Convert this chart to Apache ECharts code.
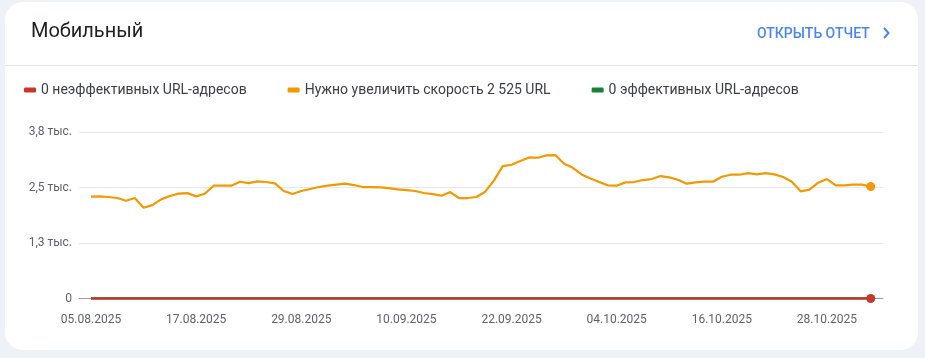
<!DOCTYPE html>
<html>
<head>
<meta charset="utf-8">
<script src="https://cdn.jsdelivr.net/npm/echarts@6/dist/echarts.min.js"></script>
<style>
  html, body { margin: 0; padding: 0; background: #eef2f8; }
  #chart { width: 925px; height: 358px; }
</style>
</head>
<body>
<div id="chart"></div>
<script>
// ---- Data ----
const xTickDays = [0, 12, 24, 36, 48, 60, 72, 84];
const xTickLabels = ['05.08.2025', '17.08.2025', '29.08.2025', '10.09.2025', '22.09.2025', '04.10.2025', '16.10.2025', '28.10.2025'];
const yTickLabels = ['0', '1,3 тыс.', '2,5 тыс.', '3,8 тыс.'];
const seriesNames = ['0 неэффективных URL-адресов', 'Нужно увеличить скорость 2 525 URL', '0 эффективных URL-адресов'];

const needsImprovement = [
  2297, 2305, 2290, 2267, 2207, 2267, 2049, 2108, 2236, 2312,
  2365, 2377, 2304, 2365, 2545, 2545, 2545, 2635, 2605, 2643,
  2628, 2598, 2425, 2356, 2425, 2470, 2515, 2545, 2568, 2590,
  2560, 2515, 2515, 2507, 2492, 2462, 2447, 2425, 2380, 2356,
  2320, 2402, 2267, 2267, 2290, 2410, 2665, 2988, 3018, 3100,
  3183, 3176, 3228, 3236, 3040, 2950, 2800, 2710, 2627, 2553,
  2545, 2620, 2628, 2673, 2695, 2763, 2733, 2680, 2590, 2620,
  2635, 2635, 2748, 2793, 2793, 2830, 2800, 2830, 2800, 2740,
  2635, 2417, 2455, 2613, 2695, 2553, 2553, 2568, 2568, 2525
];
const poor = [
  0,0,0,0,0,0,0,0,0,0, 0,0,0,0,0,0,0,0,0,0, 0,0,0,0,0,0,0,0,0,0,
  0,0,0,0,0,0,0,0,0,0, 0,0,0,0,0,0,0,0,0,0, 0,0,0,0,0,0,0,0,0,0,
  0,0,0,0,0,0,0,0,0,0, 0,0,0,0,0,0,0,0,0,0, 0,0,0,0,0,0,0,0,0,0
];
const good = [
  0,0,0,0,0,0,0,0,0,0, 0,0,0,0,0,0,0,0,0,0, 0,0,0,0,0,0,0,0,0,0,
  0,0,0,0,0,0,0,0,0,0, 0,0,0,0,0,0,0,0,0,0, 0,0,0,0,0,0,0,0,0,0,
  0,0,0,0,0,0,0,0,0,0, 0,0,0,0,0,0,0,0,0,0, 0,0,0,0,0,0,0,0,0,0
];

// ---- Build ----
function toPoints(arr, withEndDot) {
  return arr.map((v, i) => {
    if (withEndDot && i === arr.length - 1) {
      return { value: [i, v], symbol: 'circle', symbolSize: 9 };
    }
    return [i, v];
  });
}

const FONT = 'Roboto, "Noto Sans", sans-serif';
const chart = echarts.init(document.getElementById('chart'), null, { renderer: 'canvas' });

chart.setOption({
  animation: false,
  backgroundColor: 'transparent',
  textStyle: { fontFamily: FONT },
  graphic: [
    { type: 'rect', z: -10, silent: true,
      shape: { x: 5, y: 2, width: 913, height: 348, r: 18 },
      style: { fill: '#ffffff' } },
    { type: 'line', z: -9, silent: true,
      shape: { x1: 5, y1: 65.5, x2: 918, y2: 65.5 },
      style: { stroke: '#e2e3e5', lineWidth: 1 } },
    { type: 'text', left: 31, top: 22,
      style: { text: 'Мобильный', fill: '#1f1f1f', font: '400 20px ' + FONT } },
    { type: 'text', left: 757, top: 27,
      style: { text: 'ОТКРЫТЬ ОТЧЕТ', fill: '#4a86f2', font: '500 14px ' + FONT } },
    { type: 'polyline', silent: true,
      shape: { points: [[884, 28], [888.5, 33], [884, 38]] },
      style: { stroke: '#4a86f2', lineWidth: 2, fill: null } }
  ],
  legend: {
    left: 24,
    top: 83,
    padding: 0,
    itemGap: 41,
    itemWidth: 12,
    itemHeight: 5,
    icon: 'roundRect',
    data: seriesNames,
    textStyle: { fontSize: 14, color: '#3c4043', fontFamily: FONT }
  },
  grid: { left: 79, right: 42, top: 132.3, bottom: 59.5, containLabel: false },
  xAxis: {
    type: 'value',
    min: -1.37,
    max: 90.4,
    axisLine: { show: true, lineStyle: { color: '#9aa0a6', width: 1 } },
    axisTick: { show: false },
    splitLine: { show: false },
    axisLabel: {
      customValues: xTickDays,
      formatter: (v) => xTickLabels[xTickDays.indexOf(v)],
      color: '#5f6368',
      fontSize: 12,
      margin: 15,
      fontFamily: FONT
    }
  },
  yAxis: {
    type: 'value',
    min: 0,
    max: 3750,
    interval: 1250,
    axisLine: { show: false },
    axisTick: { show: false },
    splitLine: { lineStyle: { color: '#e8e8e8', width: 1 } },
    axisLabel: {
      formatter: (v) => yTickLabels[Math.round(v / 1250)],
      color: '#5f6368',
      fontSize: 12,
      margin: 7,
      fontFamily: FONT
    }
  },
  series: [
    {
      name: seriesNames[2], type: 'line', z: 2,
      data: toPoints(good, false),
      symbol: 'none', color: '#188038',
      lineStyle: { width: 2.5, color: '#188038' }
    },
    {
      name: seriesNames[1], type: 'line', z: 3,
      data: toPoints(needsImprovement, true),
      symbol: 'none', showSymbol: true, color: '#f29900',
      lineStyle: { width: 2.2, color: '#f29900' },
      itemStyle: { color: '#f29900' }
    },
    {
      name: seriesNames[0], type: 'line', z: 4,
      data: toPoints(poor, true),
      symbol: 'none', showSymbol: true, color: '#c5372c',
      lineStyle: { width: 2.5, color: '#c5372c' },
      itemStyle: { color: '#c5372c' }
    }
  ]
});
</script>
</body>
</html>
